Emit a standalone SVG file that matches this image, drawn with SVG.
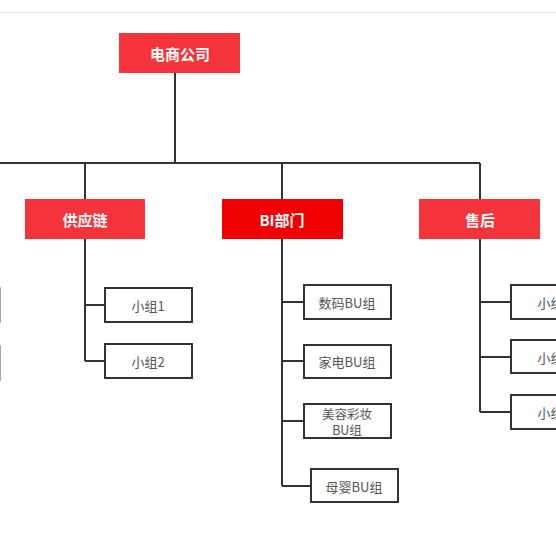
<svg xmlns="http://www.w3.org/2000/svg" width="556" height="556" viewBox="0 0 556 556">
<style>
.hd{font-family:"Noto Sans CJK SC","Liberation Sans",sans-serif;font-size:15px;font-weight:bold;fill:#fff;text-anchor:middle;dominant-baseline:central}
.ch{font-family:"Noto Sans CJK SC","Liberation Sans",sans-serif;font-size:13px;fill:#555;text-anchor:middle;dominant-baseline:central}
.red{fill:#f5333a}
.box{fill:#fff;stroke:#333;stroke-width:2}
.ln{fill:none;stroke:#333;stroke-width:2}
</style>
<rect width="556" height="556" fill="#fff"/>
<line x1="0" y1="12.5" x2="556" y2="12.5" stroke="#ecebe0" stroke-width="1"/>
<g id="connectors" class="ln">
<path d="M175 73V163M0 163H480M85 163V199M282 163V199M480 163V199"/>
<path d="M85 239V361M85 305H105M85 361H105"/>
<path d="M282 239V486M282 302H304M282 361H304M282 421H304M282 486H311"/>
<path d="M480 239V412M480 302H511M480 357H511M480 412H511"/>
</g>
<g id="left-cut"><rect x="-88" y="288" width="88" height="34" fill="#fff" stroke="#888" stroke-width="1.5"/><rect x="-88" y="346" width="88" height="34" fill="#fff" stroke="#888" stroke-width="1.5"/></g>
<g id="root"><rect class="red" x="119" y="33" width="121" height="40"/><text class="hd" x="180" y="53">电商公司</text></g>
<g id="supply"><rect class="red" x="25" y="199" width="120" height="40"/><text class="hd" x="85" y="219">供应链</text></g>
<g id="bi"><rect x="222" y="199" width="121" height="40" fill="#f00000"/><text class="hd" x="282" y="219">BI部门</text></g>
<g id="after"><rect class="red" x="419" y="199" width="121" height="40"/><text class="hd" x="480" y="219">售后</text></g>
<g id="s1"><rect class="box" x="105" y="288" width="87" height="34"/><text class="ch" x="148" y="305">小组1</text></g>
<g id="s2"><rect class="box" x="105" y="344" width="87" height="34"/><text class="ch" x="148" y="361">小组2</text></g>
<g id="b1"><rect class="box" x="304" y="285" width="87" height="34"/><text class="ch" x="347" y="302">数码BU组</text></g>
<g id="b2"><rect class="box" x="304" y="345" width="87" height="33"/><text class="ch" x="347" y="361">家电BU组</text></g>
<g id="b3"><rect class="box" x="304" y="404" width="87" height="34"/><text class="ch" style="font-size:12.5px"><tspan x="347" y="413">美容彩妆</tspan><tspan x="347" y="429">BU组</tspan></text></g>
<g id="b4"><rect class="box" x="311" y="469" width="87" height="33"/><text class="ch" x="354" y="486">母婴BU组</text></g>
<g id="a1"><rect class="box" x="511" y="285" width="87" height="34"/><text class="ch" x="554" y="302">小组1</text></g>
<g id="a2"><rect class="box" x="511" y="340" width="87" height="33"/><text class="ch" x="554" y="357">小组2</text></g>
<g id="a3"><rect class="box" x="511" y="395" width="87" height="34"/><text class="ch" x="554" y="412">小组3</text></g>
</svg>
